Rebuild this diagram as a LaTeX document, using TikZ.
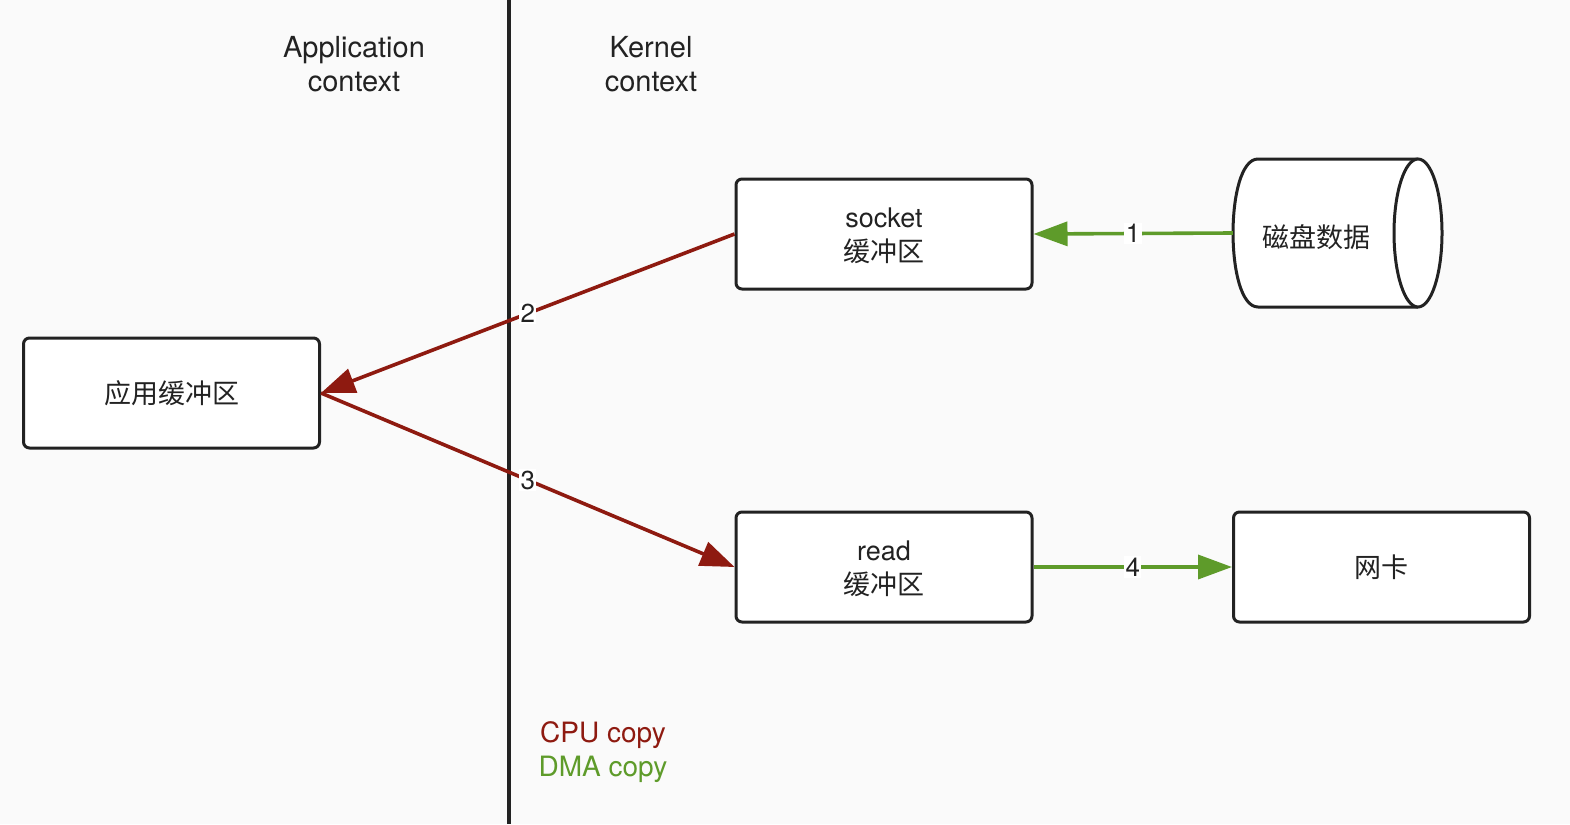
\documentclass[tikz,border=0pt]{standalone}
\usepackage{fontspec}
\setmainfont{TeX Gyre Heros}
\newfontfamily\cjk{Noto Sans CJK SC}
\usetikzlibrary{arrows.meta}
\definecolor{bg}{HTML}{FAFAFA}
\definecolor{ink}{HTML}{222222}
\definecolor{cpured}{HTML}{8E1A10}
\definecolor{dmagreen}{HTML}{5E9B2A}
\newcommand{\boxtext}[1]{\raisebox{-3.5pt}[\height][\depth]{\begin{tabular}{@{}c@{}}#1\end{tabular}}}
\tikzset{
  buf/.style={draw=ink, line width=3pt, fill=white, rounded corners=6pt,
    minimum width=296pt, minimum height=110pt, align=center, inner sep=0pt,
    text=ink, font=\fontsize{27}{34}\selectfont},
  ctx/.style={align=center, text=ink, font=\fontsize{29}{34}\selectfont},
  cpuarrow/.style={draw=cpured, line width=3.6pt, -{Triangle[length=34pt,width=25pt]}},
  dmaarrow/.style={draw=dmagreen, line width=3.6pt, -{Triangle[length=34pt,width=24pt]}},
  numlbl/.style={fill=white, inner sep=1.5pt, text=ink, font=\fontsize{26}{28}\selectfont},
  legend/.style={font=\fontsize{28}{34}\selectfont}
}
\begin{document}
\begin{tikzpicture}[x=1pt,y=-1pt]
\useasboundingbox (0,0) rectangle (1570,824);
\fill[bg] (0,0) rectangle (1570,824);
% divider
\coordinate (top) at (509,0);
\coordinate (bot) at (509,824);
\draw[ink, line width=3.2pt] (top) -- (bot);
% headings
\node[ctx] (app) at (354,64) {Application\\context};
\node[ctx] (ker) at (651,64) {Kernel\\context};
% boxes
\node[buf] (sock) at (884,234) {\boxtext{socket\\{\cjk 缓冲区}}};
\node[buf] (appbuf) at (171.5,393) {\boxtext{{\cjk 应用缓冲区}}};
\node[buf] (readb) at (884,567) {\boxtext{read\\{\cjk 缓冲区}}};
\node[buf] (nic) at (1381.5,567) {\boxtext{{\cjk 网卡}}};
% disk cylinder
\node[minimum width=209pt, minimum height=148pt, inner sep=0pt] (disk) at (1337.5,233) {};
\filldraw[fill=white, draw=ink, line width=3pt]
  (1418,159) -- (1258,159) .. controls (1224.7,159) and (1224.7,307) .. (1258,307) -- (1418,307);
\filldraw[fill=white, draw=ink, line width=3pt] (1418,233) ellipse [x radius=24pt, y radius=74pt];
\node[text=ink, font=\fontsize{27}{33}\selectfont] (disktxt) at (1316,237) {\cjk 磁盘数据};
% connectors
\draw[dmaarrow] (disk.west) -- node[numlbl]{1} (sock.east);
\draw[cpuarrow] (sock.west) -- node[numlbl]{2} (appbuf.east);
\draw[cpuarrow] (appbuf.east) -- node[numlbl]{3} (readb.west);
\draw[dmaarrow] (readb.east) -- node[numlbl]{4} (nic.west);
% legend
\node[legend, text=cpured] (lcpu) at (603,735) {CPU copy};
\node[legend, text=dmagreen] (ldma) at (603,769) {DMA copy};
\end{tikzpicture}
\end{document}
